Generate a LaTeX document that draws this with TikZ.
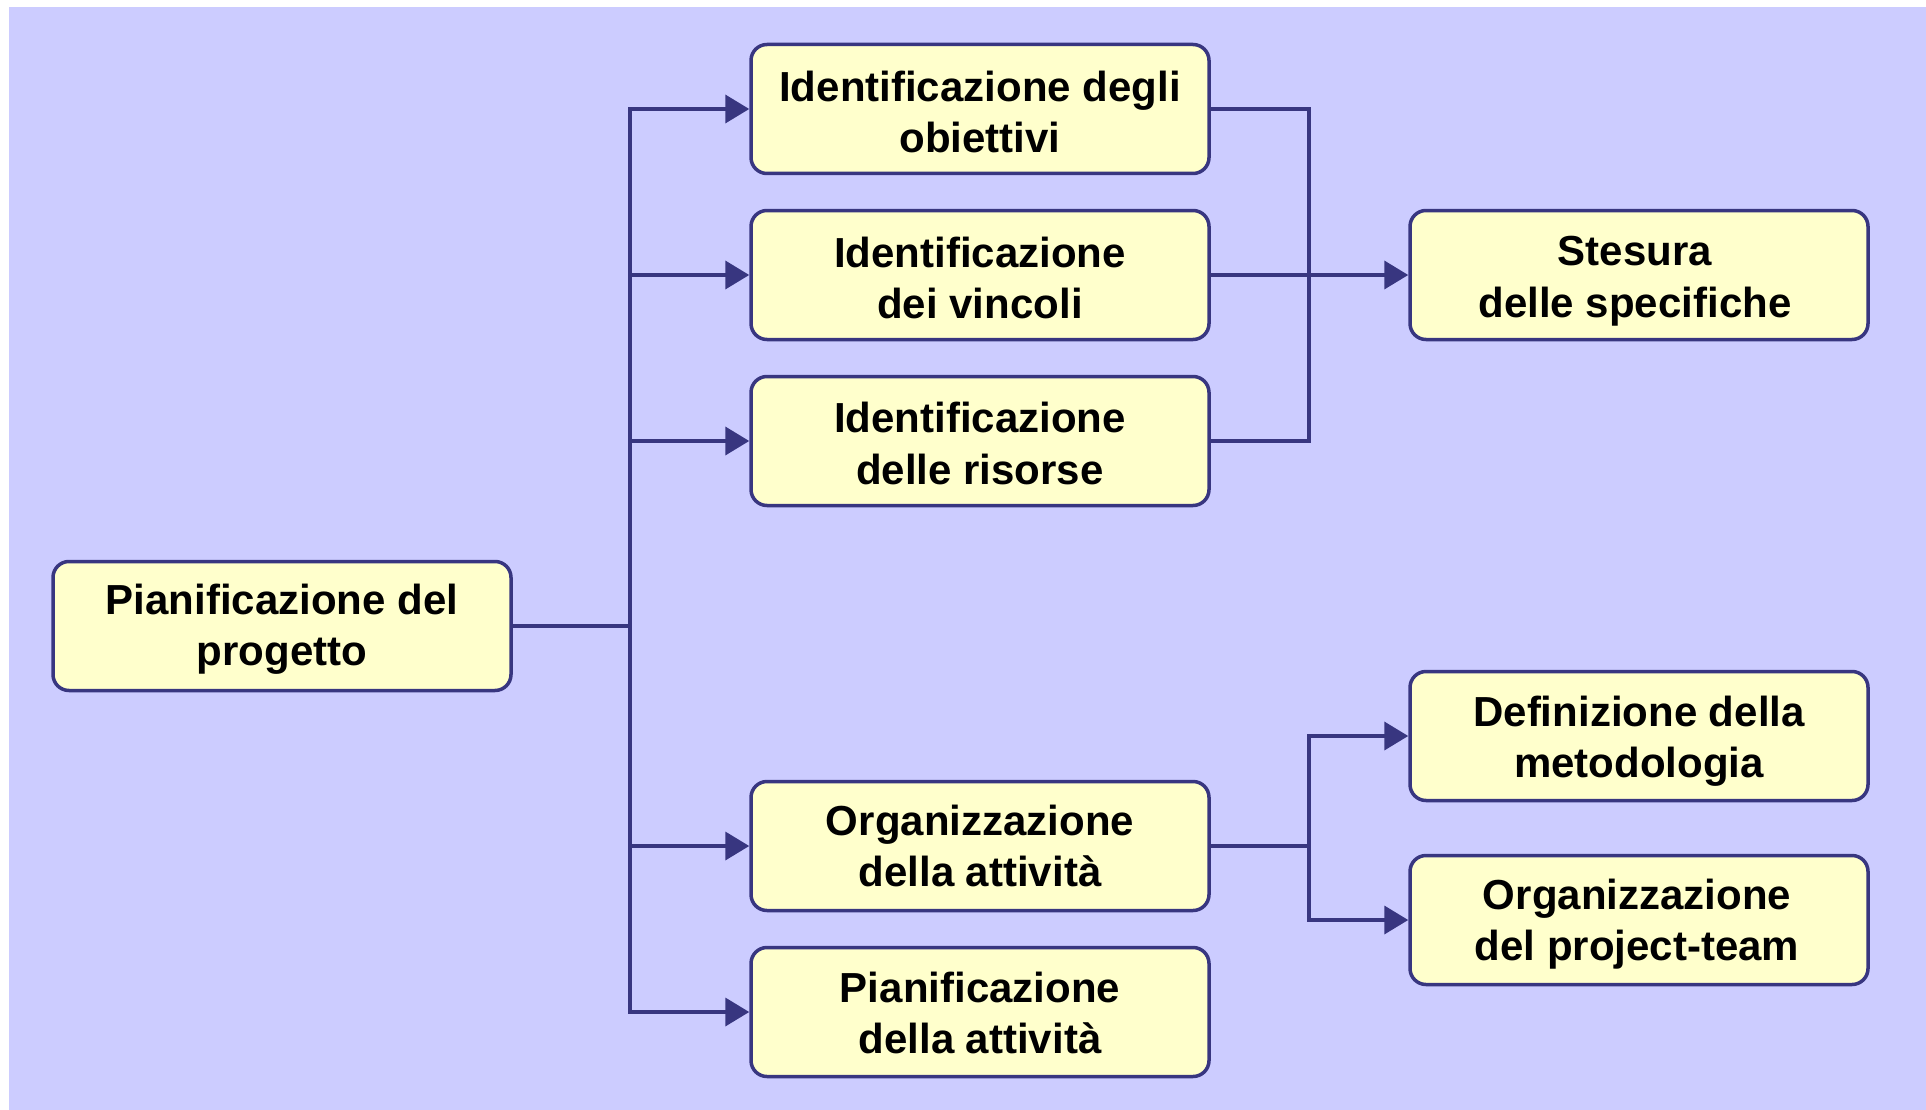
\documentclass[tikz,border=0pt]{standalone}
\usepackage{fontspec}
\setmainfont{Liberation Sans}
\usetikzlibrary{arrows.meta}
\definecolor{bgc}{HTML}{CCCCFF}
\definecolor{boxc}{HTML}{FFFFCC}
\definecolor{navy}{RGB}{56,54,128}
\tikzset{
  box/.style={draw=navy, fill=boxc, line width=3.5pt, rounded corners=16pt,
    minimum width=458pt, minimum height=129pt, inner sep=0pt},
  lbl/.style={align=center, inner sep=0pt, text=black,
    font=\fontsize{42}{51.5}\selectfont\bfseries},
  conn/.style={draw=navy, line width=3.8pt},
  arr/.style={conn, -{Triangle[length=24pt,width=28pt]}}
}
\begin{document}
\begin{tikzpicture}[x=1pt,y=-1pt]
\useasboundingbox (0,0) rectangle (1926,1110);
\fill[white] (0,0) rectangle (1926,1110);
\fill[bgc] (9,7) rectangle (1926,1110);

\node[box, label={[lbl, yshift=-3pt]center:{Pianificazione del\\progetto}}] (P) at (282,626) {};
\node[box, label={[lbl, yshift=-3pt]center:{Identificazione degli\\obiettivi}}] (I1) at (980,109) {};
\node[box, label={[lbl, yshift=-3pt]center:{Identificazione\\dei vincoli}}] (I2) at (980,275) {};
\node[box, label={[lbl, yshift=-2.5pt]center:{Identificazione\\delle risorse}}] (I3) at (980,441) {};
\node[box, label={[lbl]center:{Organizzazione\\della attività}}] (O1) at (980,846) {};
\node[box, label={[lbl, yshift=-1pt]center:{Pianificazione\\della attività}}] (P2) at (980,1012) {};
\node[box, label={[lbl, yshift=-6pt, xshift=-4pt]center:{Stesura\\delle specifiche}}] (S) at (1639,275) {};
\node[box, label={[lbl, yshift=-5pt]center:{Definizione della\\metodologia}}] (D) at (1639,736) {};
\node[box, label={[lbl, yshift=-4pt, xshift=-2pt]center:{Organizzazione\\del project-team}}] (O2) at (1639,920) {};

\coordinate (lt) at (630,626);
\coordinate (rx) at (1309,0);

\draw[conn] (P.east) -- (lt);
\draw[arr] (lt) |- (I1.west);
\draw[arr] (lt) |- (I2.west);
\draw[arr] (lt) |- (I3.west);
\draw[arr] (lt) |- (O1.west);
\draw[arr] (lt) |- (P2.west);

\draw[conn] (I1.east) -| (rx |- I3.east) -- (I3.east);
\draw[arr] (I2.east) -- (S.west);

\coordinate (rl) at (rx |- O1.east);
\draw[conn] (O1.east) -- (rl);
\draw[arr] (rl) |- (D.west);
\draw[arr] (rl) |- (O2.west);
\end{tikzpicture}
\end{document}
